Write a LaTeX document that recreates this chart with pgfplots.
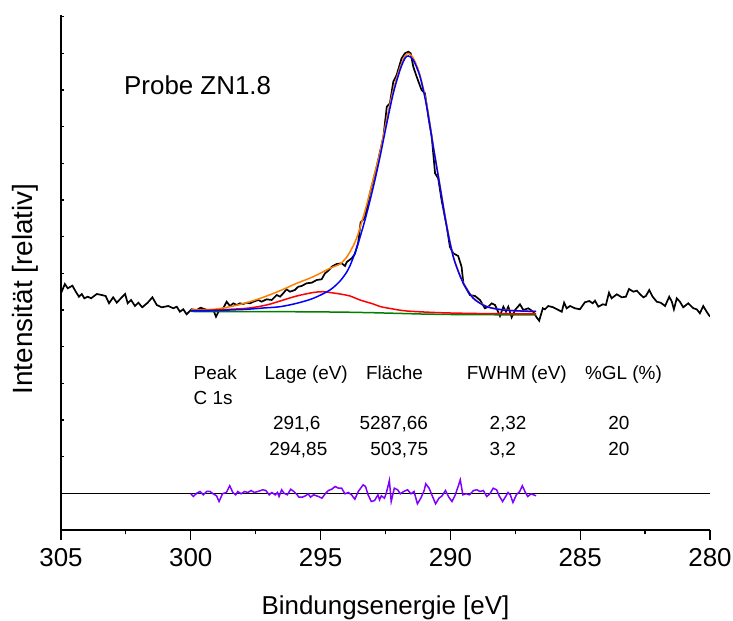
\documentclass[border=0pt]{standalone}
\usepackage{fontspec}
\setmainfont{Liberation Sans}
\usepackage{pgfplots}
\pgfplotsset{compat=1.18}
\definecolor{myorange}{RGB}{255,128,0}
\definecolor{mygreen}{RGB}{0,128,0}
\definecolor{mypurple}{RGB}{128,0,255}
\definecolor{myblue}{RGB}{0,0,255}
\definecolor{myred}{RGB}{255,0,0}
\begin{document}
\begin{tikzpicture}
\path[use as bounding box] (0,0) rectangle (733bp,621bp);
\begin{axis}[
  at={(61bp,91bp)}, anchor=south west,
  scale only axis, width=649bp, height=515bp,
  xmin=280, xmax=305, x dir=reverse,
  ymin=0, ymax=515,
  axis x line=bottom, axis y line=left,
  axis line style={-, line width=1.2bp},
  xtick={280,285,...,305}, minor x tick num=1,
  ytick=\empty,
  extra y ticks={0,36.67,73.33,110,146.67,183.33,220,256.67,293.33,330,366.67,403.33,440,476.67,513.33},
  extra y tick labels={},
  extra y tick style={tick align=inside, major tick length=3bp},
  tick align=outside,
  major tick length=10bp, minor tick length=4bp,
  tick style={line width=1.2bp, black},
  /pgf/number format/assume math mode=true,
  xticklabel style={font=\fontsize{26}{30}\selectfont, yshift=-5bp},
  xlabel={Bindungsenergie [eV]},
  xlabel style={font=\fontsize{26}{30}\selectfont, at={(axis description cs:0.5,-0.165)}, anchor=base},
  ylabel={Intensität [relativ]},
  ylabel style={font=\fontsize{28}{32}\selectfont, at={(axis description cs:-0.0436,0.468)}, anchor=base},
]
% zero line of residual
\addplot[black, line width=0.8bp] coordinates {(305,36.67) (280,36.67)};
% measured spectrum
\addplot[black, line width=1.7bp] coordinates {
(305.00,236.7) (304.85,246) (304.74,241.7) (304.56,244.3) (304.43,238.3) (304.31,233.3)
(304.20,236) (304.10,231.7) (303.97,233.3) (303.84,231.7) (303.62,236) (303.43,235)
(303.28,234) (303.15,226.7) (302.99,232.7) (302.85,227.3) (302.73,230.7) (302.53,236)
(302.43,226.7) (302.30,230) (302.15,224) (302.02,227.3) (301.87,222.7) (301.66,227.3)
(301.48,232.7) (301.31,225) (301.12,222.7) (300.87,224) (300.67,221.7) (300.54,223.3)
(300.42,218.3) (300.29,220.7) (300.16,215.7) (299.97,220.7) (299.77,220) (299.62,222.3)
(299.45,220.7) (299.26,219.3) (299.13,220) (299.03,213.3) (298.90,220) (298.75,221.7)
(298.62,228.3) (298.49,224) (298.36,226.7) (298.23,225) (298.11,226.7) (297.98,226)
(297.85,227.3) (297.72,226.7) (297.59,228.3) (297.40,230) (297.27,228.3) (297.08,230.7)
(296.88,230) (296.69,235) (296.56,233.3) (296.44,236.7) (296.31,240.7) (296.18,238.3)
(295.99,240) (295.86,243.3) (295.73,244) (295.54,246.7) (295.34,247.3) (295.15,250)
(294.96,250.7) (294.83,256.7) (294.70,259.3) (294.57,263.3) (294.38,266) (294.19,266.7)
(294.06,264) (293.99,268) (293.80,271.7) (293.68,276) (293.55,287.5) (293.46,307.3)
(293.29,312.7) (293.10,336.7) (292.84,363.3) (292.58,393.3) (292.45,423.3) (292.33,426.7)
(292.20,448.3) (292.07,455) (291.88,471.7) (291.75,476.7) (291.62,478.3) (291.53,476.7)
(291.43,463.3) (291.30,453.3) (291.11,440) (290.98,436.7) (290.85,413.3) (290.72,393.3)
(290.59,356.7) (290.47,351.7) (290.34,330) (290.14,303.3) (290.02,283.3) (289.89,276.7)
(289.70,274) (289.57,263.3) (289.50,246.7) (289.25,235) (289.05,234) (288.86,230)
(288.67,221.7) (288.54,223.3) (288.41,226.7) (288.28,225) (288.09,214) (287.96,223.3)
(287.86,218.3) (287.77,223.3) (287.64,212.7) (287.51,220) (287.32,225.7) (287.19,220)
(287.00,221.7) (286.81,218.3) (286.68,212.7) (286.58,209.3) (286.44,221.7) (286.36,220.7)
(286.23,224) (286.04,222.7) (285.84,220) (285.71,218.3) (285.62,227.3) (285.52,221.7)
(285.39,224) (285.20,221.7) (285.01,220.7) (284.82,227.7) (284.65,229) (284.52,226.7)
(284.43,229.3) (284.30,223.3) (284.13,225.7) (284.01,225) (283.89,237.3) (283.79,231.7)
(283.59,235.7) (283.40,232.7) (283.24,233.3) (283.12,241) (282.95,238.3) (282.82,239.3)
(282.70,236) (282.57,232.7) (282.47,234) (282.34,240) (282.21,233.3) (282.05,228.3)
(281.90,227.3) (281.73,224) (281.57,233.3) (281.47,228.3) (281.39,220.7) (281.28,231.7)
(281.16,228.3) (281.03,222.7) (280.84,226.7) (280.64,221.7) (280.51,220.7) (280.39,216.7)
(280.26,224) (280.13,218.3) (280.00,213.3)
};
% background
\addplot[mygreen, line width=1.5bp] coordinates {
(300.00,218.5) (297.00,218.4) (295.00,218.1) (294.00,217.8) (293.00,217.3) (292.00,216.6)
(291.00,215.9) (290.00,215.5) (288.00,215.2) (286.70,215)
};
% envelope
\addplot[myorange, line width=1.5bp, smooth] coordinates {
(300.00,220) (299.13,220.7) (298.49,223.3) (297.85,227.3) (297.21,232.7) (296.56,239.3)
(295.92,246.7) (295.28,253.3) (294.64,261.7) (294.25,266) (293.99,273) (293.87,278)
(293.61,292) (293.29,319) (292.97,351) (292.71,378) (292.45,411) (292.20,440)
(291.94,462.5) (291.75,474) (291.62,476.5) (291.43,472) (291.17,455) (290.91,425)
(290.66,384.6) (290.40,344.5) (290.14,304.3) (289.89,274) (289.63,254.7) (289.50,247)
(289.12,232.2) (288.60,223.6) (287.96,220.2) (287.30,219.1) (286.70,218.5)
};
% peak 2
\addplot[myred, line width=1.5bp, smooth] coordinates {
(300.00,219.5) (299.13,220) (297.85,221.7) (297.08,225) (296.56,229) (295.92,234)
(295.28,237.5) (294.90,238.3) (294.51,237) (294.25,236) (293.87,234) (293.48,230)
(292.97,226) (292.71,223.5) (292.32,221.5) (291.68,219) (290.40,217.3) (289.00,216.5)
(287.50,216.2) (286.70,216)
};
% peak 1
\addplot[myblue, line width=1.5bp, smooth] coordinates {
(300.00,219) (299.13,219.3) (298.50,220) (297.85,220.7) (297.20,222) (296.56,223.3)
(295.92,226.7) (295.28,231.7) (294.64,240) (294.25,249) (293.99,258) (293.87,264)
(293.61,282) (293.29,310) (292.97,343) (292.71,373.3) (292.45,406.7) (292.20,436.7)
(291.94,460) (291.75,471.7) (291.62,474) (291.43,470) (291.17,453.3) (290.91,423.3)
(290.66,383.3) (290.40,343.3) (290.14,303.3) (289.89,273.3) (289.63,254) (289.50,246.5)
(289.12,231.7) (288.60,223.3) (287.96,220) (287.30,219) (286.70,218.5)
};
% residual
\addplot[mypurple, line width=1.5bp] coordinates {
(300.00,36.2) (299.90,33.5) (299.77,36.8) (299.64,38.5) (299.52,35.2) (299.39,38.5)
(299.26,38.5) (299.14,36.2) (299.01,34.2) (298.91,28.5) (298.78,36.2) (298.63,37.5)
(298.50,44.2) (298.38,37.5) (298.27,35.2) (298.19,38.5) (298.06,36.2) (297.93,38.5)
(297.80,37.5) (297.68,39.5) (297.55,37.5) (297.42,38.5) (297.23,40.2) (297.11,39.5)
(296.98,35.2) (296.88,37.5) (296.75,35.2) (296.66,37.5) (296.60,33.5) (296.50,40.2)
(296.41,36.8) (296.28,35.2) (296.15,40.8) (296.03,38.5) (295.90,35.2) (295.84,32.8)
(295.71,32.8) (295.58,34.2) (295.48,36.2) (295.39,32.8) (295.27,35.2) (295.08,33.5)
(294.95,31.8) (294.82,36.2) (294.70,39.5) (294.57,40.8) (294.44,43.5) (294.31,41.8)
(294.19,41.8) (294.06,36.2) (293.93,37.5) (293.81,35.2) (293.68,30.8) (293.55,38.5)
(293.36,45.2) (293.27,43.5) (293.17,35.2) (293.05,28.5) (292.92,29.5) (292.79,35.2)
(292.73,30.2) (292.66,34.2) (292.54,31.8) (292.47,36.8) (292.35,49.5) (292.28,28.5)
(292.16,41.8) (292.03,40.2) (291.93,36.2) (291.80,38.5) (291.65,40.2) (291.52,36.2)
(291.40,38.5) (291.27,26.2) (291.14,31.8) (291.01,39.5) (290.95,46.2) (290.82,41.8)
(290.70,34.2) (290.57,26.2) (290.44,31.8) (290.32,34.2) (290.19,39.5) (290.06,32.8)
(289.94,28.5) (289.81,35.2) (289.68,45.2) (289.62,50.2) (289.52,35.2) (289.39,36.2)
(289.26,35.2) (289.11,39.5) (288.98,40.2) (288.86,38.5) (288.73,39.5) (288.60,33.5)
(288.48,36.2) (288.35,41.8) (288.22,40.2) (288.12,34.2) (287.99,28.5) (287.87,33.5)
(287.78,37.5) (287.69,35.2) (287.59,27.5) (287.46,35.2) (287.33,38.5) (287.23,44.2)
(287.11,37.5) (287.02,33.5) (286.89,36.2) (286.80,35.2) (286.70,34.2)
};
\end{axis}
\node[anchor=base west, inner sep=0pt, font=\fontsize{26}{30}\selectfont] at (124bp,526bp) {Probe ZN1.8};
\begin{scope}[every node/.style={anchor=base west, inner sep=0pt, font=\fontsize{19}{22}\selectfont}]
\node at (193.5bp,241bp) {Peak};
\node at (264.5bp,241bp) {Lage (eV)};
\node at (365.8bp,241bp) {Fläche};
\node at (466.7bp,241bp) {FWHM (eV)};
\node at (584.9bp,241bp) {\%GL (\%)};
\node at (193.5bp,216.7bp) {C 1s};
\node at (272.8bp,191.2bp) {291,6};
\node at (359.4bp,191.2bp) {5287,66};
\node at (489.3bp,191.2bp) {2,32};
\node at (608.1bp,191.2bp) {20};
\node at (269.2bp,165.2bp) {294,85};
\node at (370.1bp,165.2bp) {503,75};
\node at (489.3bp,165.2bp) {3,2};
\node at (608.1bp,165.2bp) {20};
\end{scope}
\end{tikzpicture}
\end{document}
